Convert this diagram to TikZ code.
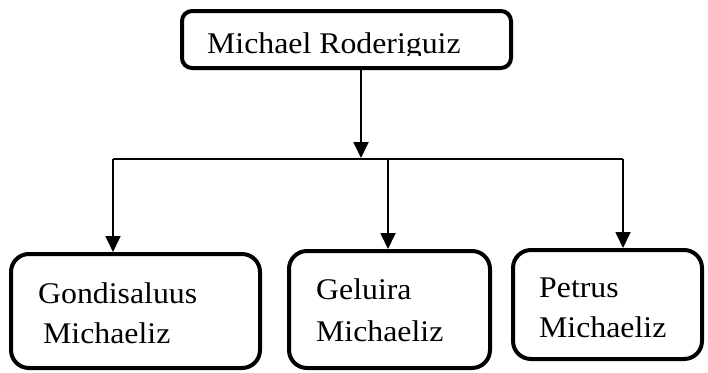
\documentclass[tikz,border=0pt]{standalone}
\usepackage{fontspec}
\setmainfont{Liberation Serif}
\newfontfamily\topfont[FakeStretch=1.06]{Liberation Serif}
\usetikzlibrary{arrows.meta}
\begin{document}
\begin{tikzpicture}[x=1pt,y=-1pt,
  personbox/.style={draw=black,line width=4pt,rounded corners=18pt,fill=white,inner sep=0pt},
  topbox/.style={draw=black,line width=4pt,rounded corners=10pt,fill=white,inner sep=0pt},
  conn/.style={line width=1.8pt,-{Triangle[width=15pt,length=16pt]}},
  bar/.style={line width=1.5pt},
  lbl/.style={anchor=base west,inner sep=0pt,font=\topfont\fontsize{30}{36}\selectfont},
  toplbl/.style={anchor=base west,inner sep=0pt,font=\topfont\fontsize{30}{36}\selectfont}]
\useasboundingbox (0,0) rectangle (708,372);
% boxes
\node[topbox,minimum width=329pt,minimum height=57pt] (top) at (346.5,39.5) {};
\node[personbox,minimum width=249pt,minimum height=114pt] (lb) at (135.5,311) {};
\node[personbox,minimum width=201pt,minimum height=117pt] (mb) at (389.5,309.5) {};
\node[personbox,minimum width=189pt,minimum height=109pt] (rb) at (607.5,304.5) {};
% texts
\begin{scope}
\clip (184,13) rectangle (509,55.5);
\node[toplbl] (toptext) at (207,53) {Michael Roderiguiz};
\end{scope}
\node[lbl] (l1) at (38,303) {Gondisaluus};
\node[lbl] (l2) at (43,343) {Michaeliz};
\node[lbl] (m1) at (316,299) {Geluira};
\node[lbl] (m2) at (316,341) {Michaeliz};
\node[lbl] (r1) at (539,297) {Petrus};
\node[lbl] (r2) at (539,337) {Michaeliz};
% connectors
\coordinate (jt) at (361,158);
\coordinate (j1) at (113,159);
\coordinate (j2) at (388,159);
\coordinate (j3) at (623,159);
\draw[conn] (top.south -| jt) -- (jt);
\draw[bar] (j1) -- (j3);
\draw[conn] (j1) -- (j1 |- lb.north);
\draw[conn] (j2) -- (j2 |- mb.north);
\draw[conn] (j3) -- (j3 |- rb.north);
\end{tikzpicture}
\end{document}
